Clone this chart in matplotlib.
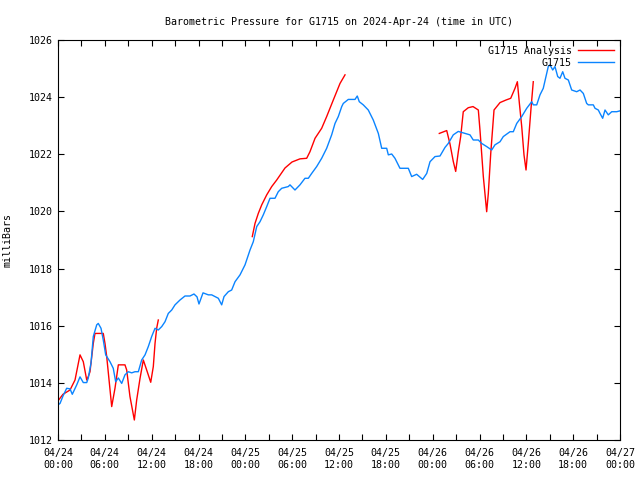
import matplotlib
matplotlib.use("Agg")
import matplotlib.pyplot as plt
import numpy as np

# hours since 2024-04-24 00:00 UTC, pressure in mb
obs_hours = [0.0, 0.26, 0.64, 1.11, 1.54, 1.83, 2.40, 2.82, 3.24, 3.68, 3.88, 4.23, 4.52, 4.96, 5.16, 5.51, 5.80, 6.11, 6.66, 7.08,
             7.39, 7.73, 8.16, 8.58, 9.01, 9.44, 9.86, 10.29, 10.72, 11.15, 11.57, 12.00, 12.43, 12.85, 13.29, 13.71, 14.13, 14.57, 14.99, 15.63,
             16.27, 16.91, 17.42, 17.81, 18.06, 18.58, 19.26, 19.69, 20.11, 20.54, 20.97, 21.27, 21.82, 22.25, 22.68, 23.32, 23.96, 24.60, 25.02, 25.46,
             25.88, 26.30, 26.74, 27.16, 27.80, 28.22, 28.66, 29.50, 29.72, 30.36, 31.00, 31.64, 32.07, 32.50, 33.14, 33.78, 34.42, 35.06, 35.49, 35.91,
             36.35, 36.55, 37.19, 38.05, 38.34, 38.60, 39.11, 39.75, 40.39, 41.04, 41.47, 42.11, 42.32, 42.75, 43.17, 43.81, 44.88, 45.31, 45.95, 46.72,
             47.24, 47.66, 48.30, 48.94, 49.58, 50.00, 50.64, 51.28, 52.78, 53.20, 53.85, 54.28, 54.92, 55.56, 55.98, 56.63, 57.05, 57.91, 58.33, 58.77,
             59.41, 60.05, 60.69, 60.89, 61.33, 61.75, 62.17, 62.52, 62.81, 63.03, 63.38, 63.67, 64.02, 64.31, 64.66, 64.95, 65.38, 65.81, 66.45, 66.88,
             67.30, 67.73, 67.94, 68.58, 68.80, 69.22, 69.44, 69.78, 70.08, 70.50, 70.94, 71.58, 72.0]
obs_mb = [1013.23, 1013.28, 1013.54, 1013.81, 1013.79, 1013.60, 1013.93, 1014.21, 1014.01, 1014.01, 1014.17, 1014.70, 1015.62, 1016.03, 1016.08, 1015.91, 1015.50, 1014.98, 1014.74, 1014.51,
          1014.04, 1014.17, 1013.98, 1014.28, 1014.39, 1014.35, 1014.39, 1014.39, 1014.80, 1014.98, 1015.27, 1015.62, 1015.91, 1015.85, 1015.97, 1016.14, 1016.43, 1016.55, 1016.73, 1016.90,
          1017.04, 1017.04, 1017.11, 1017.01, 1016.76, 1017.15, 1017.08, 1017.08, 1017.02, 1016.96, 1016.73, 1017.02, 1017.19, 1017.25, 1017.54, 1017.78, 1018.13, 1018.65, 1018.94, 1019.47,
          1019.64, 1019.88, 1020.17, 1020.46, 1020.46, 1020.69, 1020.81, 1020.87, 1020.93, 1020.75, 1020.93, 1021.16, 1021.16, 1021.33, 1021.57, 1021.86, 1022.21, 1022.68, 1023.08, 1023.32,
          1023.67, 1023.78, 1023.92, 1023.92, 1024.04, 1023.84, 1023.73, 1023.55, 1023.20, 1022.73, 1022.21, 1022.21, 1021.98, 1022.01, 1021.86, 1021.51, 1021.51, 1021.22, 1021.30, 1021.12,
          1021.33, 1021.74, 1021.92, 1021.94, 1022.24, 1022.38, 1022.68, 1022.80, 1022.68, 1022.50, 1022.50, 1022.38, 1022.27, 1022.15, 1022.33, 1022.44, 1022.62, 1022.79, 1022.79, 1023.08,
          1023.32, 1023.61, 1023.84, 1023.73, 1023.73, 1024.08, 1024.31, 1024.72, 1025.07, 1025.13, 1024.95, 1025.07, 1024.72, 1024.66, 1024.89, 1024.66, 1024.60, 1024.25, 1024.19, 1024.25,
          1024.13, 1023.78, 1023.73, 1023.73, 1023.61, 1023.55, 1023.43, 1023.26, 1023.55, 1023.38, 1023.49, 1023.49, 1023.52]

an1_hours = [0.0, 0.64, 1.54, 2.18, 2.82, 3.24, 3.68, 3.88, 4.10, 4.52, 4.74, 5.80, 6.02, 6.24, 6.88, 7.30, 7.73, 8.58, 8.80, 9.22,
             9.78, 10.08, 10.51, 10.93, 11.36, 11.88, 12.21, 12.43, 12.64, 12.85]
an1_mb = [1013.37, 1013.60, 1013.75, 1014.10, 1014.98, 1014.74, 1014.10, 1014.22, 1014.39, 1015.38, 1015.73, 1015.73, 1015.38, 1014.92, 1013.17, 1013.81, 1014.63, 1014.63, 1014.45, 1013.52,
          1012.70, 1013.40, 1014.16, 1014.80, 1014.45, 1014.02, 1014.57, 1015.38, 1015.91, 1016.20]

an2_hours = [24.89, 25.24, 25.66, 26.10, 26.74, 27.38, 28.02, 29.08, 29.98, 31.00, 31.86, 32.28, 32.93, 33.78, 34.42, 35.27, 36.13, 36.77]
an2_mb = [1019.12, 1019.58, 1019.93, 1020.23, 1020.58, 1020.87, 1021.10, 1021.52, 1021.73, 1021.84, 1021.86, 1022.09, 1022.56, 1022.91, 1023.32, 1023.90, 1024.48, 1024.78]

an3_hours = [48.85, 49.80, 50.22, 50.64, 50.95, 51.28, 51.59, 51.92, 52.56, 53.17, 53.85, 54.06, 54.49, 54.92, 55.13, 55.44, 55.86, 56.63, 57.40, 58.00,
             58.55, 58.85, 59.11, 59.41, 59.70, 59.96, 60.25, 60.60, 60.89]
an3_mb = [1022.73, 1022.83, 1022.36, 1021.75, 1021.40, 1022.08, 1022.62, 1023.49, 1023.63, 1023.67, 1023.55, 1022.85, 1021.22, 1019.99, 1020.63, 1022.03, 1023.55, 1023.81, 1023.90, 1023.96,
          1024.31, 1024.54, 1023.78, 1022.97, 1021.98, 1021.45, 1022.38, 1023.61, 1024.54]

xtick_hours = list(range(0, 73, 6))
xtick_labels = ["04/24\n00:00", "04/24\n06:00", "04/24\n12:00", "04/24\n18:00",
                "04/25\n00:00", "04/25\n06:00", "04/25\n12:00", "04/25\n18:00",
                "04/26\n00:00", "04/26\n06:00", "04/26\n12:00", "04/26\n18:00",
                "04/27\n00:00"]
yticks = list(range(1012, 1027, 2))

plt.rcParams['font.family'] = ['DejaVu Sans Mono']
fig = plt.figure(figsize=(6.4, 4.8), dpi=100)
ax = fig.add_axes([58/640, 40/480, 562/640, 400/480])

red = '#ff0000'
blue = '#0a84ff'
ax.plot(an1_hours, an1_mb, color=red, lw=1.0, label='G1715 Analysis')
ax.plot(an2_hours, an2_mb, color=red, lw=1.0)
ax.plot(an3_hours, an3_mb, color=red, lw=1.0)
ax.plot(obs_hours, obs_mb, color=blue, lw=1.0, label='G1715')

fs = 7.2
ax.set_xlim(0, 72)
ax.set_ylim(1012, 1026)
ax.set_xticks(xtick_hours)
ax.set_xticklabels(xtick_labels, fontsize=fs)
ax.set_xticks(list(range(0, 73, 3)), minor=True)
ax.set_yticks(yticks)
ax.set_yticklabels([str(v) for v in yticks], fontsize=fs)
ax.tick_params(axis='both', which='both', direction='in', top=True, right=True, length=4, width=0.8)
ax.tick_params(axis='x', which='major', pad=6)
for s in ax.spines.values():
    s.set_linewidth(0.8)

ax.set_title('Barometric Pressure for G1715 on 2024-Apr-24 (time in UTC)', fontsize=fs, pad=11)
ax.set_ylabel('milliBars', fontsize=fs, labelpad=12)

ax.legend(loc='upper right', frameon=False, fontsize=fs, markerfirst=False,
          handlelength=3.6, borderaxespad=0.2, labelspacing=0.2, handletextpad=0.6)

fig.savefig('out.png', dpi=100)
